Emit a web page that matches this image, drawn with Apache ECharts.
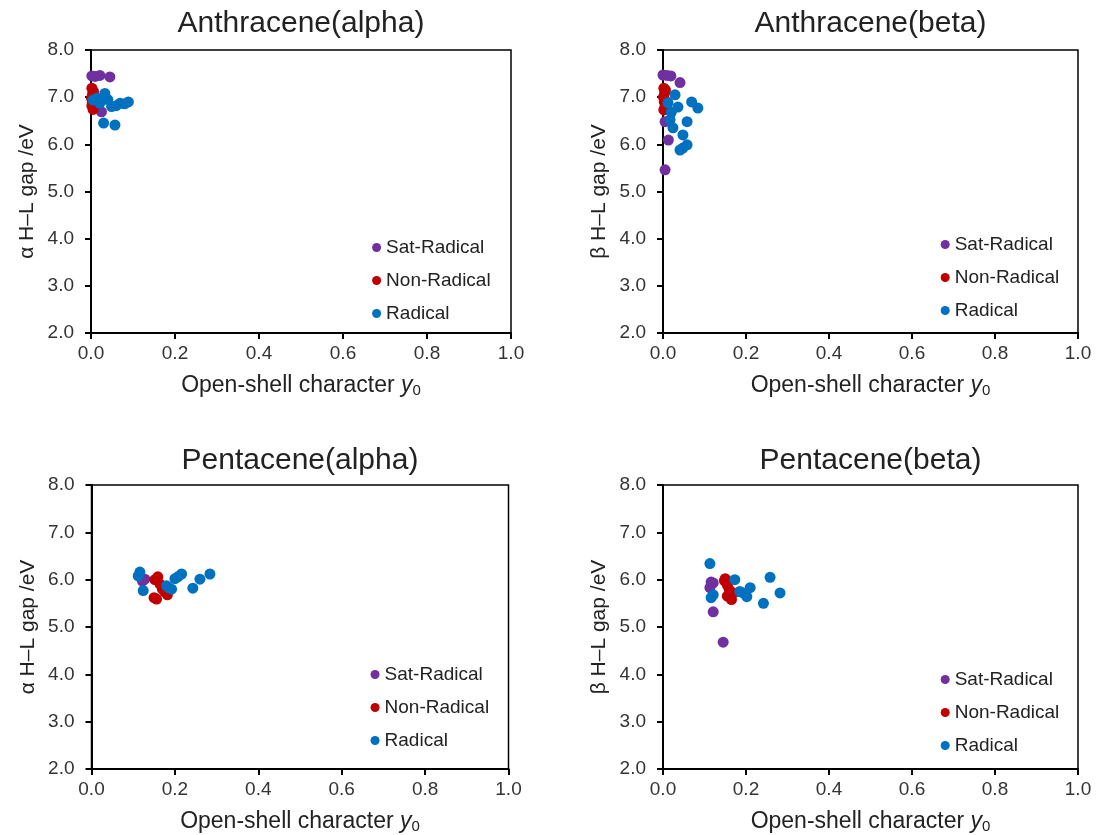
<!DOCTYPE html>
<html><head><meta charset="utf-8">
<script src="https://cdn.jsdelivr.net/npm/echarts@6/dist/echarts.min.js"></script>
<style>html,body{margin:0;padding:0;background:#fff}#c{width:1096px;height:835px}</style>
</head><body><div id="c"></div>
<script>
const seriesNames = ['Sat-Radical', 'Non-Radical', 'Radical'];
const panelTitles = ['Anthracene(alpha)', 'Anthracene(beta)', 'Pentacene(alpha)', 'Pentacene(beta)'];
const yNames = ['α H–L gap /eV', 'β H–L gap /eV', 'α H–L gap /eV', 'β H–L gap /eV'];
const xTicks = [0.0, 0.2, 0.4, 0.6, 0.8, 1.0];
const yTicks = [2.0, 3.0, 4.0, 5.0, 6.0, 7.0, 8.0];

const anthAlphaSat = [[0.002,7.45],[0.021,7.46],[0.045,7.43],[0.01,7.44],[0.025,6.69]];
const anthAlphaNon = [[0.002,7.19],[0.004,7.08],[0.001,6.98],[0.003,6.9],[0.002,6.82],[0.005,6.74],[0.006,7.12],[0.004,6.95]];
const anthAlphaRad = [[0.033,7.08],[0.005,6.94],[0.021,6.87],[0.049,6.8],[0.069,6.87],[0.089,6.9],[0.08,6.86],[0.04,6.95],[0.015,6.98],[0.03,6.45],[0.057,6.41],[0.06,6.82]];

const anthBetaSat = [[0.0,7.47],[0.019,7.45],[0.041,7.31],[0.013,6.09],[0.005,5.46],[0.005,6.48],[0.01,7.46]];
const anthBetaNon = [[0.002,7.19],[0.004,7.1],[0.001,7.0],[0.003,6.9],[0.005,6.8],[0.002,6.73],[0.006,7.15],[0.004,6.95]];
const anthBetaRad = [[0.029,7.05],[0.012,6.88],[0.036,6.79],[0.069,6.9],[0.084,6.77],[0.017,6.52],[0.024,6.35],[0.058,6.48],[0.048,6.2],[0.048,5.92],[0.058,5.99],[0.041,5.88],[0.02,6.68]];

const pentAlphaSat = [[0.128,6.01],[0.122,5.97]];
const pentAlphaNon = [[0.159,6.06],[0.156,5.59],[0.176,5.74],[0.152,6.0],[0.165,5.9],[0.17,5.8],[0.15,5.62],[0.182,5.68]];
const pentAlphaRad = [[0.116,6.16],[0.124,5.77],[0.18,5.87],[0.192,5.8],[0.207,6.06],[0.216,6.12],[0.243,5.82],[0.26,6.01],[0.284,6.12],[0.185,5.83],[0.2,6.02],[0.112,6.08]];

const pentBetaSat = [[0.121,5.93],[0.113,5.83],[0.121,5.32],[0.145,4.68],[0.116,5.95]];
const pentBetaNon = [[0.148,5.98],[0.155,5.88],[0.16,5.78],[0.155,5.65],[0.17,5.72],[0.165,5.58],[0.15,6.02]];
const pentBetaRad = [[0.113,6.34],[0.121,5.68],[0.173,6.0],[0.193,5.72],[0.21,5.83],[0.202,5.64],[0.242,5.5],[0.258,6.05],[0.282,5.72],[0.185,5.75],[0.116,5.62]];

const panelData = [
  [anthAlphaSat, anthAlphaNon, anthAlphaRad],
  [anthBetaSat, anthBetaNon, anthBetaRad],
  [pentAlphaSat, pentAlphaNon, pentAlphaRad],
  [pentBetaSat, pentBetaNon, pentBetaRad]
];
const colors = ['#7030A0', '#C00000', '#0070C0'];

const grids = [
  {left: 91, top: 50, width: 420, height: 283},
  {left: 663, top: 50, width: 415, height: 283},
  {left: 91.5, top: 485, width: 417, height: 284},
  {left: 663, top: 485, width: 415, height: 284}
];
const titleTops = [9, 9, 446, 446];
const legendY = [238, 235, 665, 670];

const font = '"Liberation Sans", Arial, sans-serif';
const option = {
  animation: false,
  backgroundColor: '#fff',
  title: panelTitles.map((t, i) => ({
    text: t, left: grids[i].left + grids[i].width / 2, top: titleTops[i], textAlign: 'center', padding: 0,
    textStyle: {fontFamily: font, fontSize: 30, fontWeight: 'normal', color: '#222'}
  })),
  legend: grids.map((g, i) => ({
    data: seriesNames, orient: 'vertical', left: g.left + 0.68 * g.width - 4.5, top: legendY[i], padding: 0,
    icon: 'circle', itemWidth: 9, itemHeight: 9, itemGap: 14,
    textStyle: {fontFamily: font, fontSize: 19, color: '#222'},
    selectedMode: false
  })),
  grid: grids.map(g => Object.assign({show: true, borderColor: '#000', borderWidth: 1.5, backgroundColor: 'transparent'}, g)),
  xAxis: grids.map((g, i) => ({
    type: 'value', gridIndex: i, min: xTicks[0], max: xTicks[xTicks.length - 1], interval: 0.2,
    name: '{a|Open-shell character }{i|y}{s|0}', nameLocation: 'middle', nameGap: 40,
    nameTextStyle: {rich: {
      a: {fontFamily: font, fontSize: 23, color: '#222'},
      i: {fontFamily: font, fontSize: 23, fontStyle: 'italic', color: '#222'},
      s: {fontFamily: font, fontSize: 15, color: '#222', verticalAlign: 'bottom', padding: [10, 0, 0, 0]}
    }},
    axisLine: {show: true, onZero: false, lineStyle: {color: '#000', width: 2}},
    axisTick: {show: true, inside: false, length: 6, lineStyle: {color: '#000', width: 2}},
    axisLabel: {fontFamily: font, fontSize: 19, color: '#333', margin: 11, formatter: v => v.toFixed(1)},
    splitLine: {show: false}
  })),
  yAxis: grids.map((g, i) => ({
    type: 'value', gridIndex: i, min: yTicks[0], max: yTicks[yTicks.length - 1], interval: 1,
    name: yNames[i], nameLocation: 'middle', nameRotate: 90, nameGap: 53,
    nameTextStyle: {fontFamily: font, fontSize: 21, color: '#222'},
    axisLine: {show: true, onZero: false, lineStyle: {color: '#000', width: 2}},
    axisTick: {show: true, inside: false, length: 6, lineStyle: {color: '#000', width: 2}},
    axisLabel: {fontFamily: font, fontSize: 19, color: '#333', margin: 17, formatter: v => v.toFixed(1)},
    splitLine: {show: false}
  })),
  series: []
};
panelData.forEach((sets, i) => {
  sets.forEach((d, k) => {
    option.series.push({
      type: 'scatter', name: seriesNames[k], xAxisIndex: i, yAxisIndex: i,
      data: d, symbol: 'circle', symbolSize: 11,
      itemStyle: {color: colors[k], opacity: 1}
    });
  });
});
const chart = echarts.init(document.getElementById('c'));
chart.setOption(option);
</script></body></html>
